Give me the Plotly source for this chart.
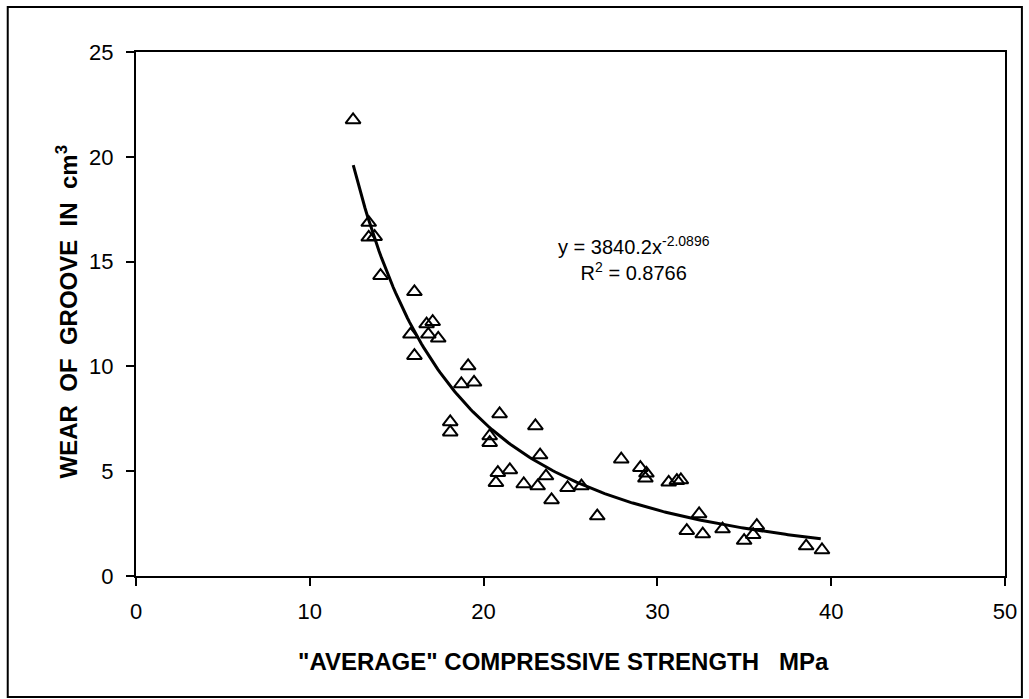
import numpy as np
import plotly.graph_objects as go

# Measured data: average compressive strength (MPa) vs wear of groove (cm^3)
strength = [12.49, 13.39, 13.39, 13.73, 14.07, 16.02, 16.72, 17.07, 15.79, 16.82,
            17.39, 16.02, 19.11, 18.72, 19.45, 18.08, 18.08, 20.92, 20.35, 20.35,
            22.98, 23.25, 20.82, 21.51, 20.71, 22.31, 23.11, 23.59, 23.91, 24.83,
            25.63, 26.54, 27.92, 29.02, 29.37, 29.31, 30.65, 31.12, 31.35, 31.69,
            32.40, 32.61, 33.75, 34.99, 35.51, 35.72, 38.56, 39.47]
wear = [21.76, 16.86, 16.16, 16.19, 14.33, 13.56, 12.02, 12.13, 11.53, 11.53,
        11.34, 10.51, 10.02, 9.16, 9.24, 7.35, 6.86, 7.73, 6.68, 6.36,
        7.16, 5.77, 4.93, 5.06, 4.45, 4.39, 4.29, 4.77, 3.63, 4.21,
        4.29, 2.86, 5.57, 5.17, 4.90, 4.66, 4.47, 4.55, 4.58, 2.16,
        2.96, 2.00, 2.24, 1.69, 1.97, 2.40, 1.43, 1.24]

# Power trendline as displayed on the chart
coef_a = 3840.2
coef_b = -2.0896
r_squared = 0.8766
trend_range = [12.5, 39.4]

x_ticks = [0, 10, 20, 30, 40, 50]
y_ticks = [0, 5, 10, 15, 20, 25]

x_title = '"AVERAGE" COMPRESSIVE STRENGTH\u00a0\u00a0\u00a0MPa'
y_title = "WEAR\u00a0\u00a0OF\u00a0\u00a0GROOVE\u00a0\u00a0IN\u00a0\u00a0cm<sup>3</sup>"

tx = np.linspace(trend_range[0], trend_range[1], 200)
ty = coef_a * tx ** coef_b

W, H = 1029, 699
L, R, T, B = 136, 1010, 52, 576
PW, PH = R - L, B - T


def px(xpix):
    return (xpix - L) / PW


def py(ypix):
    return (B - ypix) / PH


fig = go.Figure()
fig.add_trace(go.Scatter(x=strength, y=wear, mode="markers",
                         marker=dict(symbol="triangle-up-open", size=13,
                                     color="black", line=dict(width=2, color="black")),
                         showlegend=False, hoverinfo="x+y"))
fig.add_trace(go.Scatter(x=tx, y=ty, mode="lines",
                         line=dict(color="black", width=3),
                         showlegend=False, hoverinfo="skip"))

font_family = "Liberation Sans, Arial, sans-serif"
axis_common = dict(ticks="outside", ticklen=8, tickwidth=2, tickcolor="black",
                   showline=True, linewidth=2, linecolor="black", mirror=True,
                   showgrid=False, zeroline=False, tickfont=dict(size=22))

fig.update_layout(
    width=W, height=H,
    margin=dict(l=L, r=W - R, t=T, b=H - B, pad=0),
    paper_bgcolor="white", plot_bgcolor="white",
    font=dict(family=font_family, color="black", size=22),
    xaxis=dict(range=[0, 50], tickvals=x_ticks, ticklabelstandoff=7, **axis_common),
    yaxis=dict(range=[0, 25], tickvals=y_ticks, ticklabelstandoff=8, **axis_common),
    annotations=[
        dict(x=28.66, y=15.17, xref="x", yref="y",
             text=f"y = {coef_a}x<sup>{coef_b}</sup><br>R<sup>2</sup> = {r_squared}",
             showarrow=False, align="center",
             font=dict(size=20, family=font_family, color="black")),
        dict(x=px(566), y=py(662), xref="paper", yref="paper", text=x_title,
             showarrow=False, xanchor="center", yanchor="middle",
             font=dict(size=24, family=font_family, color="black", weight="bold")),
        dict(x=px(67), y=py(312), xref="paper", yref="paper", text=y_title,
             showarrow=False, xanchor="center", yanchor="middle", textangle=-90,
             font=dict(size=24, family=font_family, color="black", weight="bold")),
    ],
    shapes=[dict(type="rect", xref="paper", yref="paper",
                 x0=px(7), x1=px(1027), y0=py(697), y1=py(7),
                 line=dict(color="black", width=2), fillcolor="rgba(0,0,0,0)",
                 layer="below")],
)

fig.write_html("out.html")
